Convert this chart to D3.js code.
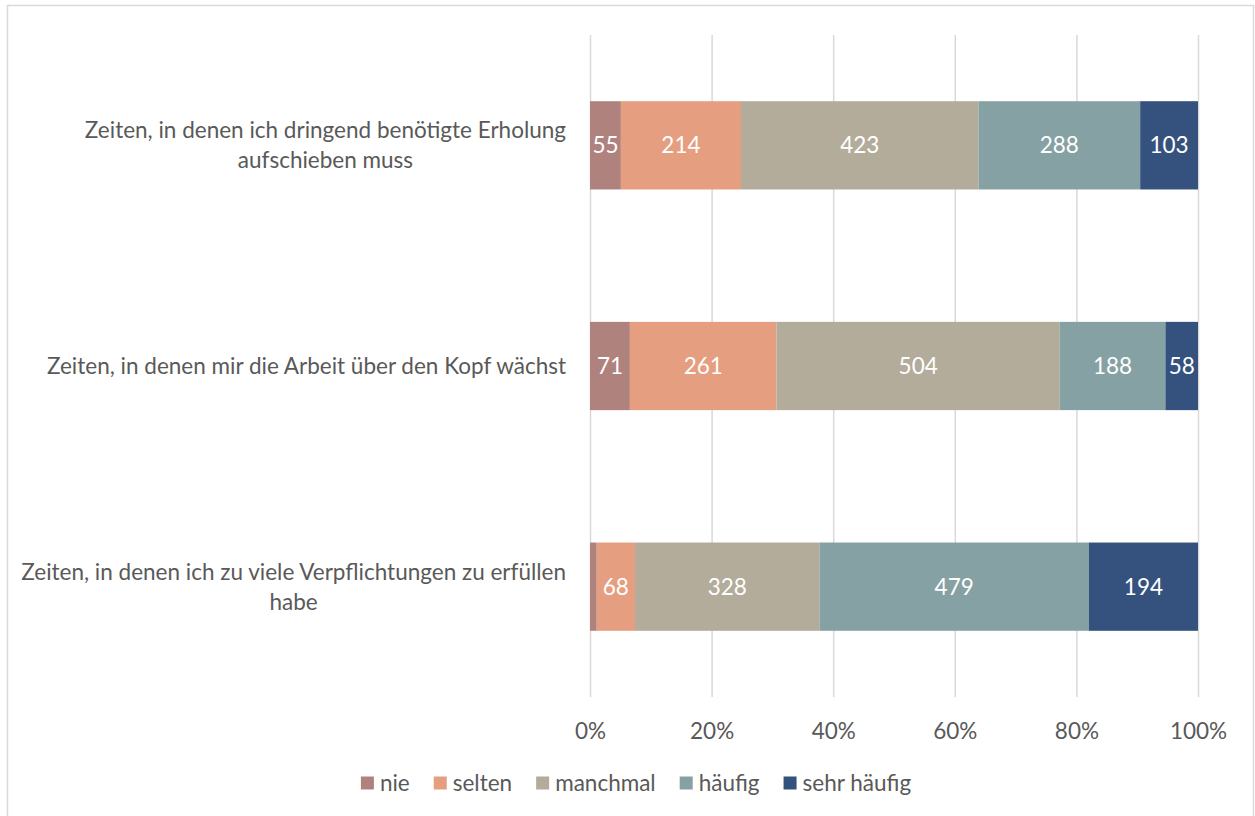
<!DOCTYPE html>
<html>
<head>
<meta charset="utf-8">
<script src="https://cdn.jsdelivr.net/npm/d3@7"></script>
<style>
  body { margin: 0; background: #ffffff; }
  svg text { font-family: Lato, "Open Sans", sans-serif; }
</style>
</head>
<body>
<svg id="chart" width="1255" height="816"></svg>
<script>
// Survey answers: how often each situation occurs (counts of respondents)
const categories = [
  "Zeiten, in denen ich dringend benötigte Erholung aufschieben muss",
  "Zeiten, in denen mir die Arbeit über den Kopf wächst",
  "Zeiten, in denen ich zu viele Verpflichtungen zu erfüllen habe"
];
const seriesNames = ["nie", "selten", "manchmal", "häufig", "sehr häufig"];
const nie         = [55, 71, 12];
const selten      = [214, 261, 68];
const manchmal    = [423, 504, 328];
const haeufig     = [288, 188, 479];
const sehrHaeufig = [103, 58, 194];
const tickValues  = [0, 0.2, 0.4, 0.6, 0.8, 1];
const colors      = ["#B0827E", "#E59E80", "#B3AC9B", "#86A1A3", "#34527D"];

const seriesValues = [nie, selten, manchmal, haeufig, sehrHaeufig];
const rows = categories.map((c, i) => {
  const r = { category: c };
  seriesNames.forEach((s, k) => { r[s] = seriesValues[k][i]; });
  return r;
});

const svg = d3.select("#chart");
const textColor = "#595959";
const fontSize = 22.5;

// chart frame
svg.append("rect")
  .attr("x", 7.5).attr("y", 5.5)
  .attr("width", 1246).attr("height", 830)
  .attr("fill", "none").attr("stroke", "#D9D9D9").attr("stroke-width", 1.5);

const plot = { left: 590, right: 1198, top: 35, bottom: 697 };

const x = d3.scaleLinear().domain([0, 1]).range([plot.left, plot.right]);
const y = d3.scaleBand().domain(categories)
  .range([plot.top, plot.bottom]).paddingInner(0.6).paddingOuter(0.3);

// vertical gridlines
const grid = svg.append("g")
  .attr("transform", `translate(0,${plot.bottom})`)
  .call(d3.axisBottom(x).tickValues(tickValues)
    .tickSize(-(plot.bottom - plot.top)).tickFormat(""));
grid.select(".domain").remove();
grid.selectAll(".tick line").attr("stroke", "#D9D9D9").attr("stroke-width", 1.5);

// percentage tick labels
const xAxis = svg.append("g")
  .attr("transform", `translate(0,${plot.bottom})`)
  .call(d3.axisBottom(x).tickValues(tickValues)
    .tickSize(0).tickPadding(42).tickFormat(d3.format(".0%")));
xAxis.select(".domain").remove();
xAxis.selectAll("text")
  .attr("fill", textColor).style("font-size", fontSize + "px")
  .attr("dy", 0);

// stacked 100% bars
const stack = d3.stack().keys(seriesNames).offset(d3.stackOffsetExpand);
const stacked = stack(rows);

const layers = svg.append("g").selectAll("g")
  .data(stacked).join("g")
  .attr("fill", (d, i) => colors[i]);

layers.selectAll("rect")
  .data(d => d.map(p => ({ p, key: d.key })))
  .join("rect")
  .attr("x", d => x(d.p[0]))
  .attr("y", d => y(d.p.data.category))
  .attr("width", d => x(d.p[1]) - x(d.p[0]))
  .attr("height", y.bandwidth());

// value labels inside segments (skipped where the segment is too narrow)
layers.selectAll("text.val")
  .data(d => d.map(p => ({ p, key: d.key })))
  .join("text")
  .attr("class", "val")
  .filter(d => x(d.p[1]) - x(d.p[0]) > 20)
  .attr("x", d => (x(d.p[0]) + x(d.p[1])) / 2)
  .attr("y", d => y(d.p.data.category) + y.bandwidth() / 2)
  .attr("dy", "0.36em")
  .attr("text-anchor", "middle")
  .attr("fill", "#ffffff")
  .style("font-size", fontSize + "px")
  .text(d => d.p.data[d.key]);

// category labels: wrapped, lines centred within a block right-aligned to the axis
const labelRight = plot.left - 24;
const maxLabelWidth = 560;
const lineHeight = 30;
const measurer = svg.append("text").style("font-size", fontSize + "px").attr("opacity", 0);
function textWidth(s) { measurer.text(s); return measurer.node().getComputedTextLength(); }
function wrap(s) {
  const words = s.split(" ");
  const lines = [];
  let line = "";
  words.forEach(w => {
    const t = line ? line + " " + w : w;
    if (line && textWidth(t) > maxLabelWidth) { lines.push(line); line = w; }
    else line = t;
  });
  if (line) lines.push(line);
  return lines;
}
const catG = svg.append("g");
categories.forEach(c => {
  const lines = wrap(c);
  const blockW = d3.max(lines, textWidth);
  const cx = labelRight - blockW / 2;
  const cy = y(c) + y.bandwidth() / 2;
  const t = catG.append("text")
    .attr("text-anchor", "middle")
    .attr("fill", textColor)
    .style("font-size", fontSize + "px");
  lines.forEach((l, i) => {
    t.append("tspan")
      .attr("x", cx)
      .attr("y", cy + (i - (lines.length - 1) / 2) * lineHeight)
      .attr("dy", "0.36em")
      .text(l);
  });
});
measurer.remove();

// legend, centred below the axis labels
const legendY = 783;
const sw = 13, gapText = 6, gapItem = 24;
const items = seriesNames.map((s, i) => ({ s, color: colors[i], w: 0 }));
const legend = svg.append("g");
const legendItems = legend.selectAll("g").data(items).join("g");
legendItems.append("rect")
  .attr("width", sw).attr("height", sw)
  .attr("y", legendY - sw / 2)
  .attr("fill", d => d.color);
legendItems.append("text")
  .attr("x", sw + gapText)
  .attr("y", legendY)
  .attr("dy", "0.36em")
  .attr("fill", textColor)
  .style("font-size", fontSize + "px")
  .text(d => d.s)
  .each(function (d) { d.w = sw + gapText + this.getComputedTextLength(); });
const totalW = d3.sum(items, d => d.w) + gapItem * (items.length - 1);
let cursor = 636 - totalW / 2;
legendItems.attr("transform", d => {
  const tx = cursor;
  cursor += d.w + gapItem;
  return `translate(${tx},0)`;
});
</script>
</body>
</html>
